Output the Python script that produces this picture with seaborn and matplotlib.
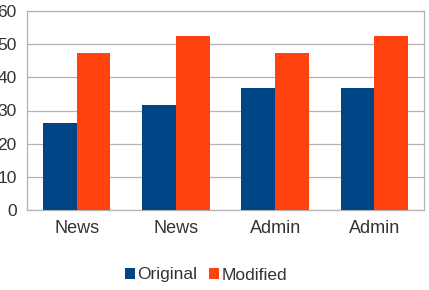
import matplotlib
matplotlib.use("Agg")
import matplotlib.pyplot as plt
import seaborn as sns
import pandas as pd

categories = ["News", "News", "Admin", "Admin"]
original = [26.3, 31.6, 36.8, 36.8]
modified = [47.4, 52.6, 47.4, 52.6]
series = ["Original", "Modified"]
colors = ["#004586", "#ff420e"]
yticks = [0, 10, 20, 30, 40, 50, 60]

rows = []
for i, c in enumerate(categories):
    rows.append({"pos": i, "series": "Original", "value": original[i]})
    rows.append({"pos": i, "series": "Modified", "value": modified[i]})
df = pd.DataFrame(rows)

sns.set_style("white")
plt.rcParams["font.family"] = ["Liberation Sans", "DejaVu Sans"]

fig = plt.figure(figsize=(4.29, 2.90), dpi=100)
ax = fig.add_axes([27/429, 1 - 210/290, (424-27)/429, (210-11)/290])

sns.barplot(data=df, x="pos", y="value", hue="series", hue_order=series,
            palette=colors, width=0.68, saturation=1, ax=ax, zorder=3,
            linewidth=0, edgecolor="none")

ax.set_ylim(0, 60)
ax.set_xlim(-0.5, 3.5)
ax.set_yticks(yticks)
ax.set_yticklabels([str(t) for t in yticks])
ax.set_xticks(range(len(categories)))
ax.set_xticklabels(categories)
ax.set_xlabel("")
ax.set_ylabel("")
ax.yaxis.grid(True, color="#b3b3b3", linewidth=0.9, zorder=0)
ax.set_axisbelow(True)
for s in ax.spines.values():
    s.set_color("#b3b3b3")
    s.set_linewidth(0.9)
ax.tick_params(axis="y", length=4.5, color="#b3b3b3", labelsize=12.5, labelcolor="#333333", pad=3)
ax.tick_params(axis="x", length=0, labelsize=13, labelcolor="#333333", pad=7)
ax.set_xticks([0.5, 1.5, 2.5], minor=True)
ax.tick_params(axis="x", which="minor", length=4.5, color="#b3b3b3")

leg = ax.legend(loc="center", bbox_to_anchor=(206/429, 1 - 275/290),
                bbox_transform=fig.transFigure, ncol=2, frameon=False,
                fontsize=12.5, handlelength=0.55, handleheight=0.55,
                handletextpad=0.15, columnspacing=0.7)
for t in leg.get_texts():
    t.set_color("#333333")

fig.savefig("out.png", dpi=100)
